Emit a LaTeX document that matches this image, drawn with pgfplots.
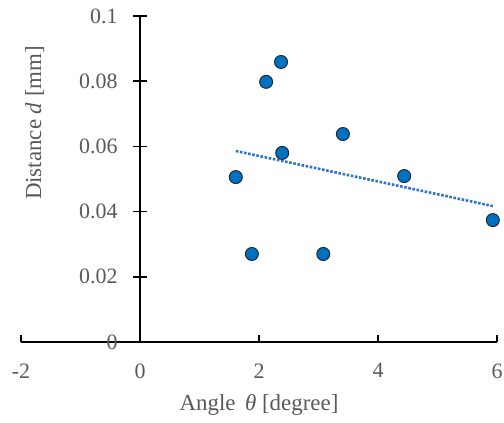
\documentclass[border=0pt]{standalone}
\usepackage{fontspec}
\setmainfont{Liberation Serif}
\usepackage{pgfplots}
\pgfplotsset{compat=1.18}
\definecolor{ptblue}{HTML}{0070C0}
\definecolor{ptedge}{HTML}{1C2A3A}
\definecolor{txtgray}{HTML}{595959}
\definecolor{trend}{HTML}{2F74C8}

\begin{document}
\begin{tikzpicture}
\begin{axis}[
    scale only axis,
    width=476bp, height=326bp,
    xmin=-2, xmax=6, ymin=0, ymax=0.1,
    axis x line=bottom, axis y line=center,
    axis line style={-, line width=1.6bp, black},
    xtick={-2,0,2,4,6},
    ytick={0,0.02,0.04,0.06,0.08,0.1},
    hide obscured x ticks=false, hide obscured y ticks=false,
    scaled y ticks=false,
    xtick align=inside, ytick align=center,
    major tick length=14bp,
    xtick style={line width=1.6bp, black, /pgfplots/major tick length=7bp},
    ytick style={line width=1.6bp, black},
    /pgf/number format/assume math mode=true,
    yticklabel style={/pgf/number format/fixed, /pgf/number format/precision=2,
        font=\fontsize{22}{24}\selectfont, text=txtgray, anchor=east, xshift=-12bp},
    xticklabel style={font=\fontsize{22}{24}\selectfont, text=txtgray, yshift=-18bp},
    xlabel={Angle\, {\itshape θ} [degree]},
    ylabel={Distance {\itshape d} [mm]},
    label style={font=\fontsize{23}{25}\selectfont, text=txtgray},
    xlabel style={at={(axis description cs:0.5,-0.193)}, anchor=center},
    ylabel style={at={(axis description cs:0.029,0.672)}, anchor=center, rotate=90},
    clip=false,
]
\addplot[only marks, mark=*, mark size=6.5bp,
    mark options={fill=ptblue, draw=ptedge, line width=1bp}]
    coordinates {
    (1.61,0.0506) (1.88,0.0270) (2.12,0.0798) (2.37,0.0859) (2.39,0.0580)
    (3.08,0.0270) (3.41,0.0638) (4.44,0.0509) (5.93,0.0374)
};
\addplot[trend, line width=2.6bp, dash pattern=on 2.6bp off 1.6bp]
    coordinates {(1.61,0.0586) (5.93,0.0417)};
\coordinate (bbl) at (axis description cs:-0.0441,-0.2454);
\coordinate (btr) at (axis description cs:1.0147,1.0491);
\end{axis}
\pgfresetboundingbox
\path[use as bounding box] (bbl) rectangle (btr);
\end{tikzpicture}
\end{document}
